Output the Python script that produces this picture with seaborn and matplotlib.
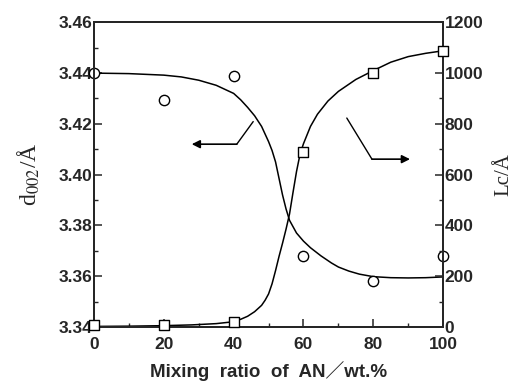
import numpy as np
import pandas as pd
import seaborn as sns
import matplotlib
matplotlib.use("Agg")
import matplotlib.pyplot as plt
from matplotlib.ticker import MultipleLocator, FormatStrFormatter

# measured points
ratio = [0, 20, 40, 60, 80, 100]
d002 = [3.440, 3.4295, 3.439, 3.368, 3.358, 3.368]
lc = [6, 6, 20, 690, 1000, 1087]

# fitted curves
fit_d_x = [0, 10, 20, 25, 30, 35, 40, 42, 44, 46, 48, 50, 51, 52, 53, 54, 55, 56,
           58, 60, 62, 65, 68, 70, 73, 76, 80, 85, 90, 95, 100]
fit_d_y = [3.4400, 3.4398, 3.4392, 3.4385, 3.4372, 3.4352, 3.4320, 3.4295, 3.4265,
           3.4232, 3.4190, 3.4130, 3.4095, 3.4050, 3.3985, 3.3920, 3.3865, 3.3820,
           3.3770, 3.3738, 3.3712, 3.3680, 3.3652, 3.3636, 3.3620, 3.3608, 3.3598,
           3.3594, 3.3593, 3.3594, 3.3597]
fit_l_x = [0, 10, 20, 28, 35, 39, 42, 44, 46, 48, 49, 50, 51, 52, 53, 54, 55, 56,
           57, 58, 59, 60, 62, 64, 67, 70, 75, 80, 85, 90, 95, 100]
fit_l_y = [2, 3, 5, 8, 13, 19, 30, 42, 60, 85, 105, 130, 170, 222, 278, 330, 385,
           445, 530, 612, 680, 722, 790, 838, 890, 928, 975, 1010, 1043, 1065, 1078,
           1088]

# arrow guides (x, d002 scale)
arrow_l_x = [45.6, 40.9, 28.0]
arrow_l_y = [3.4209, 3.412, 3.412]
arrow_r_x = [72.4, 79.6, 90.5]
arrow_r_y = [3.4223, 3.4061, 3.4061]

sns.set_style("ticks")
plt.rcParams["font.family"] = ["Liberation Sans", "Noto Sans CJK JP", "DejaVu Sans"]
plt.rcParams["mathtext.fontset"] = "stix"

fig = plt.figure(figsize=(5.22, 3.92), dpi=100)
ax = fig.add_axes([0.180, 0.166, 0.669, 0.777])
ax2 = ax.twinx()

sns.lineplot(x=fit_d_x, y=fit_d_y, ax=ax, color="black", lw=1.1, sort=False)
sns.lineplot(x=fit_l_x, y=fit_l_y, ax=ax2, color="black", lw=1.1, sort=False)
sns.scatterplot(x=ratio, y=d002, ax=ax, marker="o", s=55, facecolor="white",
                edgecolor="black", linewidth=1.0, zorder=5, clip_on=False)
sns.scatterplot(x=ratio, y=lc, ax=ax2, marker="s", s=55, facecolor="white",
                edgecolor="black", linewidth=1.0, zorder=5, clip_on=False)

# arrows
ax.plot(arrow_l_x[:2], arrow_l_y[:2], color="black", lw=1.0)
ax.annotate("", xy=(arrow_l_x[2], arrow_l_y[2]), xytext=(arrow_l_x[1], arrow_l_y[1]),
            arrowprops=dict(arrowstyle="-|>", color="black", lw=1.2,
                            mutation_scale=12, shrinkA=0, shrinkB=0))
ax.plot(arrow_r_x[:2], arrow_r_y[:2], color="black", lw=1.0)
ax.annotate("", xy=(arrow_r_x[2], arrow_r_y[2]), xytext=(arrow_r_x[1], arrow_r_y[1]),
            arrowprops=dict(arrowstyle="-|>", color="black", lw=1.2,
                            mutation_scale=12, shrinkA=0, shrinkB=0))

ax.set_xlim(0, 100)
ax.set_ylim(3.34, 3.46)
ax2.set_ylim(0, 1200)
ax.xaxis.set_major_locator(MultipleLocator(20))
ax.xaxis.set_minor_locator(MultipleLocator(10))
ax.yaxis.set_major_locator(MultipleLocator(0.02))
ax.yaxis.set_minor_locator(MultipleLocator(0.01))
ax2.yaxis.set_major_locator(MultipleLocator(200))
ax2.yaxis.set_minor_locator(MultipleLocator(100))
ax.yaxis.set_major_formatter(FormatStrFormatter("%.2f"))

for a in (ax, ax2):
    a.tick_params(which="major", direction="in", length=6, width=1.1, pad=1,
                  labelsize=12.5)
    a.tick_params(which="minor", direction="in", length=3, width=1.0)
    for sp in a.spines.values():
        sp.set_visible(True)
        sp.set_linewidth(1.4)
    for lab in a.get_xticklabels() + a.get_yticklabels():
        lab.set_fontweight("bold")
ax.tick_params(axis="x", pad=7)
ax2.tick_params(axis="y", right=True, left=False)

ax.set_xlabel("Mixing  ratio  of  AN／wt.%", fontsize=13.5, fontweight="bold",
              labelpad=7)
ax.set_ylabel(r"d$_{\rm 002}$/Å", fontsize=17, family="Liberation Serif",
              labelpad=12)
ax2.set_ylabel("Lc/Å", fontsize=15, family="Liberation Serif", labelpad=8)

fig.savefig("out.png", dpi=100)
